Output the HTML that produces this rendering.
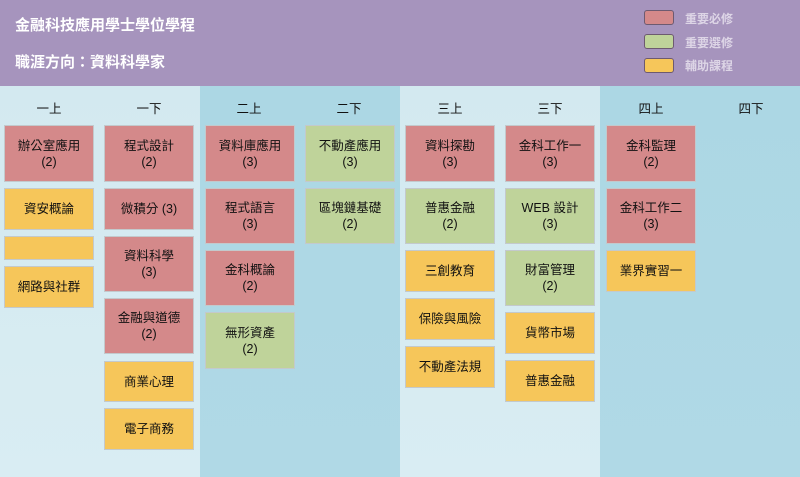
<!DOCTYPE html>
<html><head><meta charset="utf-8"><style>
*{margin:0;padding:0;box-sizing:border-box}
body{width:800px;height:477px;position:relative;overflow:hidden;font-family:"Liberation Sans","Noto Sans CJK TC",sans-serif;background:#d6ebf1}
.hd{position:absolute;left:0;top:0;width:800px;height:86px;background:#a694bd}
.t{position:absolute;color:#fff;font-size:15px;font-weight:bold;left:15px}
.col{position:absolute;top:86px;height:391px;width:200px}
.l{background:linear-gradient(180deg,#d3e9f0,#d9edf3)}
.d{background:linear-gradient(180deg,#acd7e4,#b0d9e6)}
.s{position:absolute;top:98px;width:90px;text-align:center;font-size:12.5px;color:#111}
.b{position:absolute;width:90px;display:flex;align-items:center;justify-content:center;text-align:center;font-size:12.5px;line-height:16px;color:#111;border:1px solid #c3c9cc}
.r{background:#d4898a}.g{background:#bfd39a}.y{background:#f6c65a}
.lg{position:absolute;left:644px;width:30px;height:15px;border:1.5px solid #6d5a70;border-radius:3px}
.lt{position:absolute;left:685px;font-size:12px;color:#ddd5e6;font-weight:bold}
</style></head><body>
<div class="hd"></div>
<div class="t" style="top:14px">金融科技應用學士學位學程</div>
<div class="t" style="top:51px">職涯方向：資料科學家</div>
<div class="lg r" style="top:10px"></div><div class="lt" style="top:10px">重要必修</div>
<div class="lg g" style="top:34px"></div><div class="lt" style="top:34px">重要選修</div>
<div class="lg y" style="top:58px"></div><div class="lt" style="top:57px">輔助課程</div>
<div class="col l" style="left:0"></div>
<div class="col d" style="left:200px"></div>
<div class="col l" style="left:400px"></div>
<div class="col d" style="left:600px"></div>
<div class="s" style="left:4px">一上</div><div class="s" style="left:104px">一下</div>
<div class="s" style="left:204px">二上</div><div class="s" style="left:304px">二下</div>
<div class="s" style="left:405px">三上</div><div class="s" style="left:505px">三下</div>
<div class="s" style="left:606px">四上</div><div class="s" style="left:706px">四下</div>

<div class="b r" style="left:4px;top:125px;height:57px">辦公室應用<br>(2)</div>
<div class="b y" style="left:4px;top:188px;height:42px">資安概論</div>
<div class="b y" style="left:4px;top:236px;height:24px"></div>
<div class="b y" style="left:4px;top:266px;height:42px">網路與社群</div>

<div class="b r" style="left:104px;top:125px;height:57px">程式設計<br>(2)</div>
<div class="b r" style="left:104px;top:188px;height:42px">微積分 (3)</div>
<div class="b r" style="left:104px;top:236px;height:56px">資料科學<br>(3)</div>
<div class="b r" style="left:104px;top:298px;height:56px">金融與道德<br>(2)</div>
<div class="b y" style="left:104px;top:361px;height:41px">商業心理</div>
<div class="b y" style="left:104px;top:408px;height:42px">電子商務</div>

<div class="b r" style="left:205px;top:125px;height:57px">資料庫應用<br>(3)</div>
<div class="b r" style="left:205px;top:188px;height:56px">程式語言<br>(3)</div>
<div class="b r" style="left:205px;top:250px;height:56px">金科概論<br>(2)</div>
<div class="b g" style="left:205px;top:312px;height:57px">無形資產<br>(2)</div>

<div class="b g" style="left:305px;top:125px;height:57px">不動產應用<br>(3)</div>
<div class="b g" style="left:305px;top:188px;height:56px">區塊鏈基礎<br>(2)</div>

<div class="b r" style="left:405px;top:125px;height:57px">資料探勘<br>(3)</div>
<div class="b g" style="left:405px;top:188px;height:56px">普惠金融<br>(2)</div>
<div class="b y" style="left:405px;top:250px;height:42px">三創教育</div>
<div class="b y" style="left:405px;top:298px;height:42px">保險與風險</div>
<div class="b y" style="left:405px;top:346px;height:42px">不動產法規</div>

<div class="b r" style="left:505px;top:125px;height:57px">金科工作一<br>(3)</div>
<div class="b g" style="left:505px;top:188px;height:56px">WEB 設計<br>(3)</div>
<div class="b g" style="left:505px;top:250px;height:56px">財富管理<br>(2)</div>
<div class="b y" style="left:505px;top:312px;height:42px">貨幣市場</div>
<div class="b y" style="left:505px;top:360px;height:42px">普惠金融</div>

<div class="b r" style="left:606px;top:125px;height:57px">金科監理<br>(2)</div>
<div class="b r" style="left:606px;top:188px;height:56px">金科工作二<br>(3)</div>
<div class="b y" style="left:606px;top:250px;height:42px">業界實習一</div>
</body></html>
